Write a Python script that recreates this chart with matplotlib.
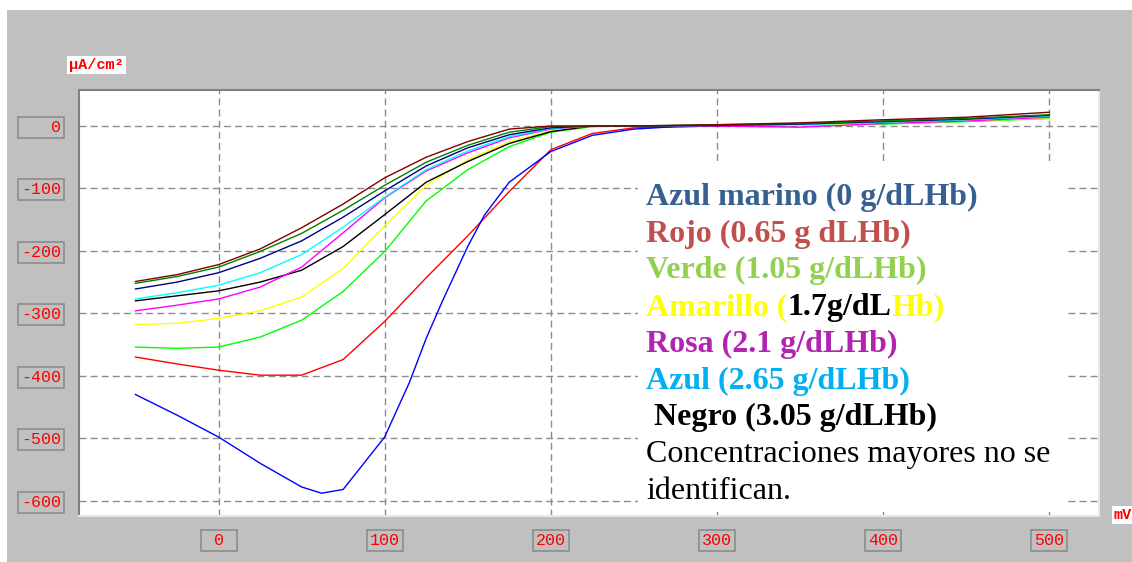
import matplotlib
matplotlib.use('Agg')
import matplotlib.pyplot as plt
from matplotlib.patches import Rectangle

# potential (mV) and current density (uA/cm2)
x = [-50, -25, 0, 25, 50, 75, 100, 125, 150, 175, 200, 225, 250, 300, 350, 400, 450, 500]
brown   = [-249, -238, -222, -197, -163, -125, -83, -50, -25, -5, 0, 0, 0, 2, 5, 10, 14, 22]
dgreen  = [-252, -241, -226, -201, -172, -135, -95, -58, -31, -10, -1, 0, 0, 2, 4, 8, 12, 18]
navy    = [-261, -250, -235, -212, -184, -146, -104, -64, -35, -14, -3, 0, 0, 1, 3, 7, 11, 17]
cyan    = [-277, -267, -255, -235, -206, -162, -114, -70, -40, -17, -4, 0, 0, 1, 2, 6, 10, 16]
magenta = [-296, -287, -277, -258, -226, -171, -115, -72, -43, -19, -5, 0, 0, 0, -2, 4, 8, 14]
black   = [-280, -272, -264, -250, -231, -193, -142, -90, -57, -28, -9, 0, 0, 0, 3, 7, 11, 17]
yellow  = [-318, -316, -308, -296, -274, -228, -160, -95, -54, -25, -8, 0, 0, 1, 1, 4, 8, 13]
lime    = [-354, -356, -354, -338, -311, -265, -201, -120, -70, -33, -10, -1, 0, 0, 1, 3, 7, 12]
red     = [-370, -381, -391, -399, -399, -374, -313, -243, -176, -105, -38, -12, -3, 0, 1, 5, 9, 15]

x_blue = [-50, -25, 0, 25, 50, 62, 75, 100, 115, 125, 135, 150, 160, 175, 200, 225, 250, 275, 300, 350, 400, 450, 500]
blue   = [-430, -463, -498, -540, -578, -588, -582, -498, -410, -340, -279, -193, -143, -90, -41, -15, -5, -1, 0, 1, 4, 9, 14]

curves = [(x, red, '#ff0000'), (x_blue, blue, '#0000ff'), (x, lime, '#00ff00'),
          (x, yellow, '#ffff00'), (x, black, '#000000'), (x, magenta, '#ff00ff'),
          (x, cyan, '#00ffff'), (x, navy, '#000080'), (x, dgreen, '#008000'),
          (x, brown, '#800000')]

xticks = [0, 100, 200, 300, 400, 500]
yticks = [0, -100, -200, -300, -400, -500, -600]

legend_lines = [
    [('Azul marino (0 g/dLHb)', '#376092')],
    [('Rojo (0.65 g dLHb)', '#c0504d')],
    [('Verde (1.05 g/dLHb)', '#92d050')],
    [('Amarillo (', '#ffff00'), ('1.7g/dL', '#000000'), ('Hb)', '#ffff00')],
    [('Rosa (2.1 g/dLHb)', '#b024b0')],
    [('Azul (2.65 g/dLHb)', '#00b0f0')],
    [(' Negro (3.05 g/dLHb)', '#000000')],
]
note_lines = ['Concentraciones mayores no se', 'identifican.']

W, H = 1132, 562
fig = plt.figure(figsize=(W / 100, H / 100), dpi=100)
fig.patch.set_facecolor('white')
fig.patches.append(Rectangle((7 / W, 0), 1 - 7 / W, 1 - 10 / H, transform=fig.transFigure,
                             facecolor='#c0c0c0', edgecolor='none', zorder=-10))

ax = fig.add_axes([79 / W, 1 - 516 / H, 1020 / W, 426 / H])
ax.set_facecolor('white')
ax.set_xlim(-84, 530)
ax.set_ylim(-624.5, 57.6)

for xs, ys, c in curves:
    ax.plot(xs, ys, color=c, lw=1.0, zorder=3)

ax.set_xticks(xticks)
ax.set_xticklabels([f'{v:^3d}' for v in xticks])
ax.set_yticks(yticks)
ax.set_yticklabels([f'{v:>4d}' for v in yticks])
ax.grid(True, color='#8c8c8c', linestyle=(0, (5, 3)), lw=1.0, zorder=1)
ax.tick_params(length=0, labelcolor='#ff0000', labelsize=12)
ax.tick_params(axis='y', pad=13)
ax.tick_params(axis='x', pad=12)
for lbl in ax.get_xticklabels() + ax.get_yticklabels():
    lbl.set_family('Liberation Mono')
    lbl.set_bbox(dict(boxstyle='square,pad=0.18', facecolor='#c0c0c0',
                      edgecolor='#8c8c8c', lw=1.2))

for side in ['left', 'top']:
    ax.spines[side].set_color('#808080')
    ax.spines[side].set_linewidth(1.5)
for side in ['right', 'bottom']:
    ax.spines[side].set_color('#e8e8e8')
    ax.spines[side].set_linewidth(1.5)

# white panel behind the notes
ax.add_patch(Rectangle((0.548, 0.009), 0.419, 0.82, transform=ax.transAxes,
                       facecolor='white', edgecolor='none', zorder=2.5))

# axis unit labels
fig.text(69 / W, 1 - 65 / H, 'µA/cm²', color='#ff0000', fontsize=11, fontweight='bold',
         family='Liberation Mono', va='center', ha='left',
         bbox=dict(boxstyle='square,pad=0.15', facecolor='white', edgecolor='none'))
fig.text(1114 / W, 1 - 515 / H, 'mV', color='#ff0000', fontsize=11, fontweight='bold',
         family='Liberation Mono', va='center', ha='left',
         bbox=dict(boxstyle='square,pad=0.15', facecolor='white', edgecolor='none'))

# coloured notes
x0 = 646 / W
base = 205
step = 36.7
font = dict(family='Liberation Serif', fontsize=23, va='baseline', ha='left', zorder=5)
for i, parts in enumerate(legend_lines):
    yy = 1 - (base + i * step) / H
    txt, col = parts[0]
    prev = fig.text(x0, yy, txt, color=col, fontweight='bold', **font)
    for txt, col in parts[1:]:
        prev = ax.annotate(txt, xy=(1, yy), xycoords=(prev, 'figure fraction'),
                           color=col, fontweight='bold', annotation_clip=False, **font)
for j, txt in enumerate(note_lines):
    yy = 1 - (base + (len(legend_lines) + j) * step) / H
    fig.text(x0, yy, txt, color='black', **font)

fig.savefig('out.png', dpi=100)
